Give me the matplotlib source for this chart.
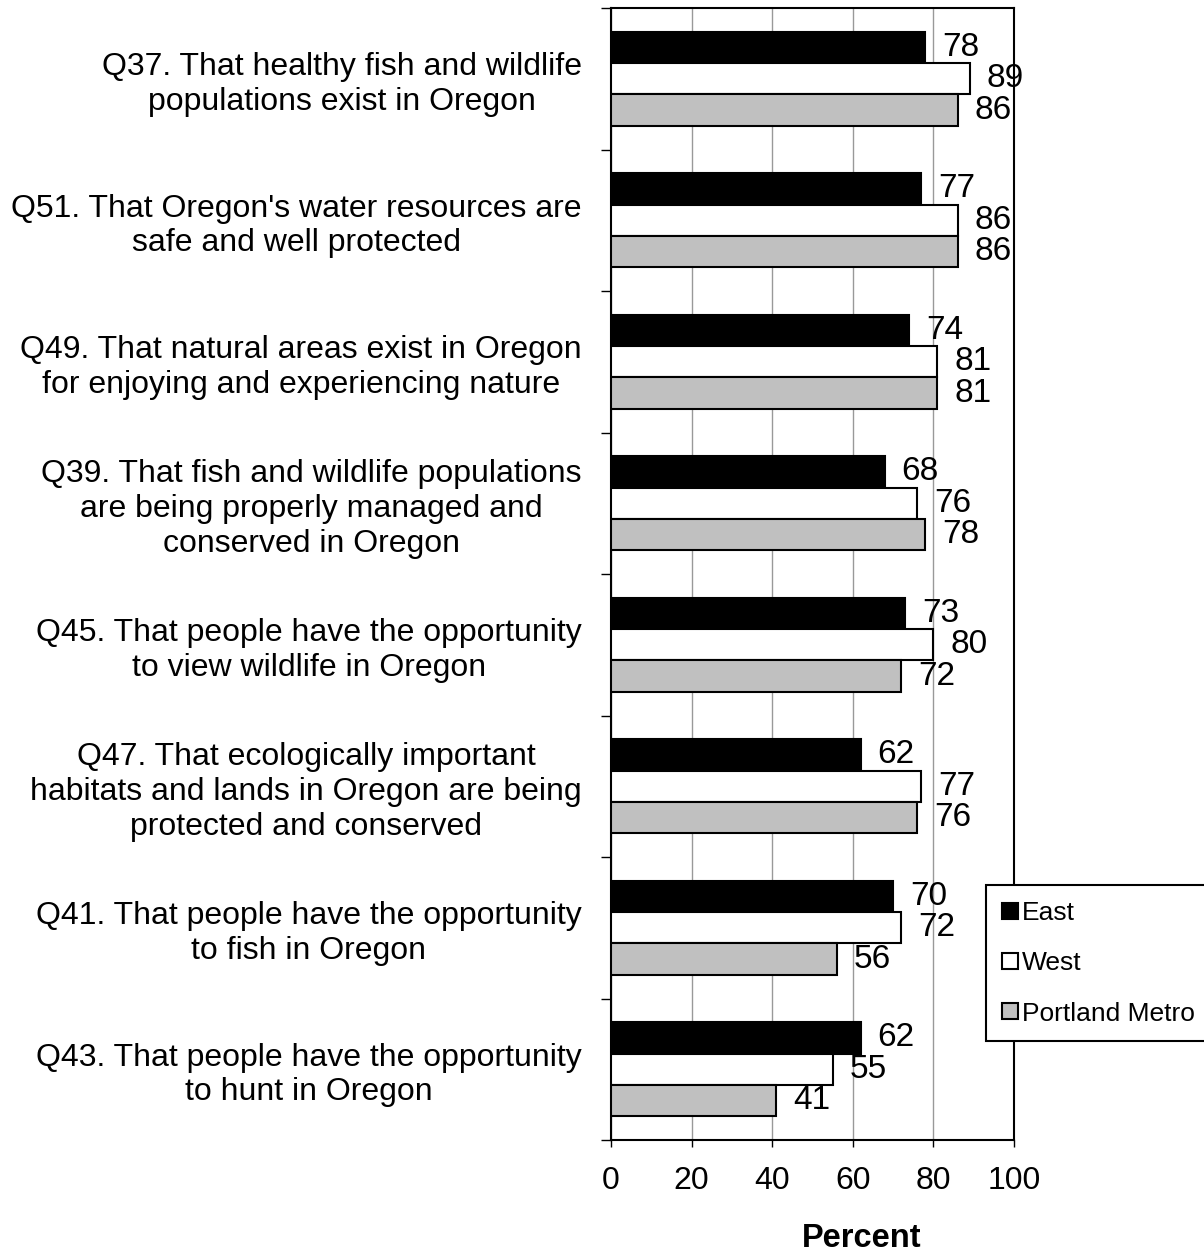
import numpy as np
import matplotlib
matplotlib.use("Agg")
import matplotlib.pyplot as plt
from matplotlib.lines import Line2D

plt.rcParams["font.family"] = ["Liberation Sans", "DejaVu Sans"]

questions = [
    "Q37. That healthy fish and wildlife\npopulations exist in Oregon",
    "Q51. That Oregon's water resources are\nsafe and well protected",
    "Q49. That natural areas exist in Oregon\nfor enjoying and experiencing nature",
    "Q39. That fish and wildlife populations\nare being properly managed and\nconserved in Oregon",
    "Q45. That people have the opportunity\nto view wildlife in Oregon",
    "Q47. That ecologically important\nhabitats and lands in Oregon are being\nprotected and conserved",
    "Q41. That people have the opportunity\nto fish in Oregon",
    "Q43. That people have the opportunity\nto hunt in Oregon",
]
east = [78, 77, 74, 68, 73, 62, 70, 62]
west = [89, 86, 81, 76, 80, 77, 72, 55]
metro = [86, 86, 81, 78, 72, 76, 56, 41]
series_names = ["East", "West", "Portland Metro"]
series_colors = ["#000000", "#ffffff", "#c0c0c0"]

fig = plt.figure(figsize=(12.04, 12.53), dpi=100)
ax = fig.add_axes([611 / 1204, 1 - 1140 / 1253, 403 / 1204, 1132 / 1253])

n = len(questions)
y = np.arange(n)
h = 0.222

for k, (vals, col) in enumerate(zip([east, west, metro], series_colors)):
    pos = y + (k - 1) * h
    ax.barh(pos, vals, height=h, color=col, edgecolor="black",
            linewidth=1.5, zorder=3)
    for p, v in zip(pos, vals):
        ax.annotate(str(v), (v, p), xytext=(12, 0), textcoords="offset points",
                    ha="left", va="center", fontsize=24, zorder=4)

ax.set_xlim(0, 100)
ax.set_ylim(n - 0.5, -0.5)
ax.set_xticks(range(0, 101, 20))
ax.tick_params(axis="x", labelsize=23, length=5, width=1, pad=14, direction="out")
ax.xaxis.grid(True, color="#999999", linewidth=1, zorder=0)
ax.set_axisbelow(True)

ax.set_yticks(np.arange(-0.5, n, 1.0))
ax.set_yticklabels([])
ax.tick_params(axis="y", which="major", length=7, width=1, direction="out")
ax.set_yticks(y, minor=True)
ax.set_yticklabels(questions, minor=True, fontsize=23, multialignment="center")
ax.tick_params(axis="y", which="minor", length=0, pad=21)

for s in ax.spines.values():
    s.set_linewidth(1.5)

ax.set_xlabel("Percent", fontsize=23.5, fontweight="bold")
ax.xaxis.set_label_coords(251 / 403, -0.073)

handles = [Line2D([], [], marker="s", linestyle="none", markersize=11,
                  markerfacecolor=c, markeredgecolor="black", markeredgewidth=1.5)
           for c in series_colors]
leg = ax.legend(handles, series_names, loc="upper left",
                bbox_to_anchor=(986 / 1204, 1 - 885 / 1253),
                bbox_transform=fig.transFigure, borderaxespad=0,
                fontsize=19, frameon=True, fancybox=False, framealpha=1,
                edgecolor="black", handlelength=0.6, handletextpad=0.15,
                labelspacing=1.0, borderpad=0.6)
leg.get_frame().set_linewidth(1.5)
leg.set_zorder(10)

fig.savefig("out.png", dpi=100)
